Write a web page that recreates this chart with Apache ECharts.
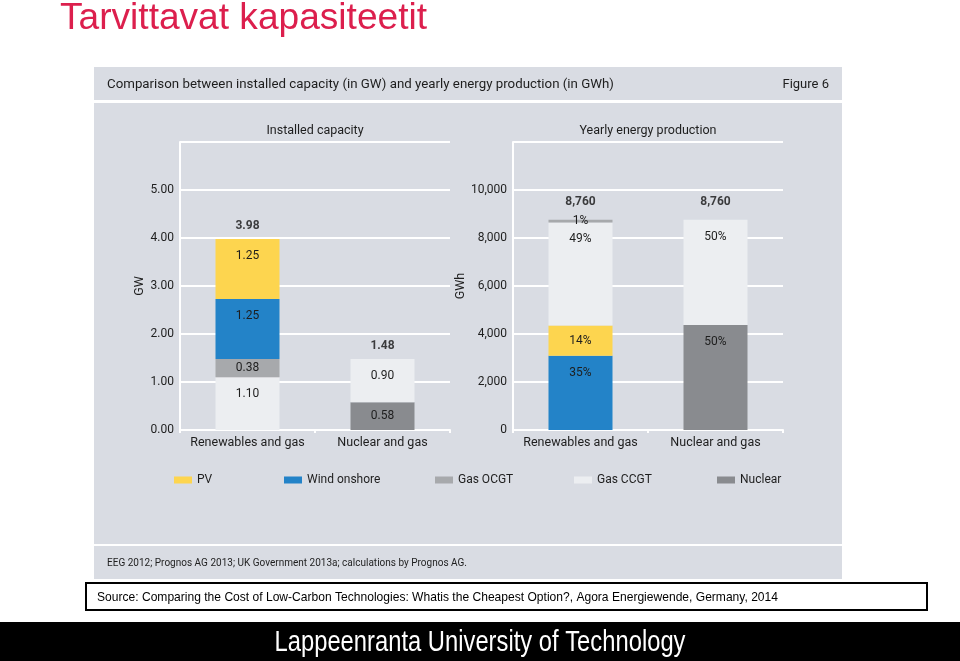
<!DOCTYPE html>
<html><head><meta charset="utf-8">
<script src="https://cdn.jsdelivr.net/npm/echarts@6/dist/echarts.min.js"></script>
<style>html,body{margin:0;padding:0;background:#fff}#c{width:960px;height:661px}</style>
</head><body><div id="c"></div>
<script>
// ---- data ----
const categories = ['Renewables and gas', 'Nuclear and gas'];
// Installed capacity (GW)
const capPV = [1.25, 0];
const capWind = [1.25, 0];
const capOCGT = [0.38, 0];
const capCCGT = [1.10, 0.90];
const capNuclear = [0, 0.58];
// Yearly energy production (GWh)
const prodPV = [1260, 0];
const prodWind = [3090, 0];
const prodOCGT = [110, 0];
const prodCCGT = [4300, 4380];
const prodNuclear = [0, 4380];
// tick labels
const gwTicks = ['0.00', '1.00', '2.00', '3.00', '4.00', '5.00'];
const gwhTicks = ['0', '2,000', '4,000', '6,000', '8,000', '10,000'];

// ---- styles ----
const COLORS = {
  'PV': '#fdd54f', 'Wind onshore': '#2383c8', 'Gas OCGT': '#a7a9ac',
  'Gas CCGT': '#eceef1', 'Nuclear': '#898b8f'
};
const FONT = 'Roboto';
const TXT = '#1e1e1e';
const GRID_TOP = 142, GRID_BOTTOM = 231, GRID_H = 661 - GRID_TOP - GRID_BOTTOM;

const chart = echarts.init(document.getElementById('c'), null, {renderer: 'canvas'});

const mctx = document.createElement('canvas').getContext('2d');
function fitScale(text, font, width) {
  mctx.font = font;
  return width / mctx.measureText(text).width;
}

function sumAt(arrs, i) { return arrs.reduce((s, a) => s + a[i], 0); }

function barSeries(name, arr, idx, axisMax, fmt) {
  const pxPerUnit = GRID_H / axisMax;
  return {
    type: 'bar', name: name, stack: 's' + idx, xAxisIndex: idx, yAxisIndex: idx,
    barWidth: 64, silent: true,
    itemStyle: {color: COLORS[name]},
    data: arr.map((v, i) => {
      const h = v * pxPerUnit;
      return {
        value: v > 0 ? v : '-',
        label: {
          show: v > 0,
          position: h < 40 ? 'inside' : 'insideTop',
          distance: 11,
          formatter: () => fmt(v, i),
          color: TXT, fontFamily: FONT, fontSize: 12
        }
      };
    })
  };
}

const capArrs = [capPV, capWind, capOCGT, capCCGT, capNuclear];
const prodArrs = [prodPV, prodWind, prodOCGT, prodCCGT, prodNuclear];
const capTotals = categories.map((c, i) => sumAt(capArrs, i));
const prodTotals = categories.map((c, i) => sumAt(prodArrs, i));

const capFmt = v => v.toFixed(2);
const prodFmt = (v, i) => Math.round(v / prodTotals[i] * 100) + '%';

function axisCommon(gi) {
  return {
    gridIndex: gi,
    axisLine: {show: true, lineStyle: {color: '#fff', width: 2}},
    splitLine: {show: true, lineStyle: {color: '#fff', width: 2}},
    axisTick: {show: false},
    nameTextStyle: {color: TXT, fontFamily: FONT, fontSize: 12.5},
  };
}

function xAxisCfg(gi) {
  return {
    type: 'category', gridIndex: gi, data: categories,
    axisLine: {show: true, lineStyle: {color: '#fff', width: 2}},
    axisTick: {show: true, length: 3, lineStyle: {color: '#fff', width: 2}},
    axisLabel: {interval: 0, color: TXT, fontFamily: FONT, fontSize: 12.5, margin: 6},
    splitLine: {show: false}
  };
}

function totalSeries(totals, idx, fmt, dist) {
  return {
    type: 'scatter', xAxisIndex: idx, yAxisIndex: idx, symbolSize: 0, silent: true,
    data: totals.map((t, i) => [i, t]),
    label: {show: true, position: 'top', distance: dist, formatter: p => fmt(p.value[1]),
      color: '#111', fontFamily: FONT, fontSize: 12, fontWeight: 'bold'}
  };
}

function legendFor(name, left) {
  return {
    data: [name], left: left, top: 474, padding: 0, itemWidth: 18, itemHeight: 7, itemGap: 0,
    icon: 'rect', selectedMode: false,
    textStyle: {color: TXT, fontFamily: FONT, fontSize: 12}
  };
}

function txt(x, y, text, font, fill, align, fitW) {
  const el = {type: 'text', x: x, y: y, z: 5, silent: true,
    style: {text: text, font: font, fill: fill, textAlign: align || 'left', textVerticalAlign: 'middle',
      align: align || 'left', verticalAlign: 'middle'}};
  if (fitW) { el.scaleX = fitScale(text, font, fitW); el.originX = 0; el.originY = 0; }
  return el;
}

const srcText = 'Source: Comparing the Cost of Low-Carbon Technologies: Whatis the Cheapest Option?, Agora Energiewende, Germany, 2014';
const lutText = 'Lappeenranta University of Technology';

const option = {
  animation: false,
  backgroundColor: '#ffffff',
  graphic: [
    {type: 'rect', z: -10, silent: true, shape: {x: 94, y: 67, width: 748, height: 512}, style: {fill: '#d9dce3'}},
    {type: 'rect', z: -9, silent: true, shape: {x: 94, y: 100, width: 748, height: 3}, style: {fill: '#ffffff'}},
    {type: 'rect', z: -9, silent: true, shape: {x: 94, y: 544, width: 748, height: 2}, style: {fill: '#ffffff'}},
    {type: 'rect', z: -9, silent: true, shape: {x: 86, y: 583, width: 841, height: 27}, style: {fill: '#ffffff', stroke: '#000', lineWidth: 2}},
    {type: 'rect', z: -9, silent: true, shape: {x: 0, y: 622, width: 960, height: 39}, style: {fill: '#000000'}},
    txt(60, 19, 'Tarvittavat kapasiteetit', '37px "Liberation Sans", Arial, sans-serif', '#dc1f4d', 'left', 367),
    txt(107, 85, 'Comparison between installed capacity (in GW) and yearly energy production (in GWh)', '13px ' + FONT, TXT, 'left', 507),
    txt(829, 85, 'Figure 6', '13px ' + FONT, TXT, 'right'),
    txt(315, 131, 'Installed capacity', '12.5px ' + FONT, TXT, 'center'),
    txt(648, 131, 'Yearly energy production', '12.5px ' + FONT, TXT, 'center'),
    txt(107, 563, 'EEG 2012; Prognos AG 2013; UK Government 2013a; calculations by Prognos AG.', '10.5px ' + FONT, TXT, 'left', 360),
    txt(97, 597, srcText, '13.5px "Liberation Sans", Arial, sans-serif', '#000', 'left', 681),
    {type: 'text', x: 480, y: 643, z: 5, silent: true, originX: 0, originY: 0,
      scaleX: fitScale(lutText, '29px "Liberation Sans", Arial, sans-serif', 411),
      style: {text: lutText, font: '29px "Liberation Sans", Arial, sans-serif', fill: '#fff',
        textAlign: 'center', textVerticalAlign: 'middle', align: 'center', verticalAlign: 'middle'}}
  ],
  grid: [
    {left: 180, right: 960 - 450, top: GRID_TOP, bottom: GRID_BOTTOM},
    {left: 513, right: 960 - 783, top: GRID_TOP, bottom: GRID_BOTTOM}
  ],
  legend: [
    legendFor('PV', 174),
    legendFor('Wind onshore', 284),
    legendFor('Gas OCGT', 435),
    legendFor('Gas CCGT', 574),
    legendFor('Nuclear', 717)
  ],
  xAxis: [xAxisCfg(0), xAxisCfg(1)],
  yAxis: [
    Object.assign(axisCommon(0), {
      type: 'value', min: 0, max: 6, interval: 1,
      name: 'GW', nameLocation: 'middle', nameGap: 34, nameRotate: 90,
      axisLabel: {color: TXT, fontFamily: FONT, fontSize: 12, margin: 6,
        formatter: v => (gwTicks[Math.round(v)] !== undefined ? gwTicks[Math.round(v)] : '')}
    }),
    Object.assign(axisCommon(1), {
      type: 'value', min: 0, max: 12000, interval: 2000,
      name: 'GWh', nameLocation: 'middle', nameGap: 40, nameRotate: 90,
      axisLabel: {color: TXT, fontFamily: FONT, fontSize: 12, margin: 6,
        formatter: v => (gwhTicks[Math.round(v / 2000)] !== undefined ? gwhTicks[Math.round(v / 2000)] : '')}
    })
  ],
  series: [
    barSeries('Nuclear', capNuclear, 0, 6, capFmt),
    barSeries('Gas CCGT', capCCGT, 0, 6, capFmt),
    barSeries('Gas OCGT', capOCGT, 0, 6, capFmt),
    barSeries('Wind onshore', capWind, 0, 6, capFmt),
    barSeries('PV', capPV, 0, 6, capFmt),
    totalSeries(capTotals, 0, v => v.toFixed(2), 7),
    barSeries('Nuclear', prodNuclear, 1, 12000, prodFmt),
    barSeries('Wind onshore', prodWind, 1, 12000, prodFmt),
    barSeries('PV', prodPV, 1, 12000, prodFmt),
    barSeries('Gas CCGT', prodCCGT, 1, 12000, prodFmt),
    barSeries('Gas OCGT', prodOCGT, 1, 12000, prodFmt),
    totalSeries(prodTotals, 1, v => Math.round(v).toLocaleString('en-US'), 12)
  ]
};
chart.setOption(option);
</script>
</body></html>
